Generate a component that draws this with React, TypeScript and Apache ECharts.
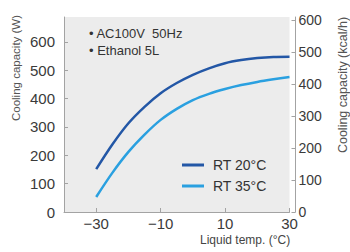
import React, { useEffect, useRef } from "react";
import * as echarts from "echarts";

const temps = [-30, -25, -20, -15, -10, -5, 0, 5, 10, 15, 20, 25, 30];
const rt20 = [151, 238, 313, 371, 419, 455, 484, 507, 525, 536, 543, 547, 548];
const rt35 = [53, 138, 212, 273, 325, 364, 395, 417, 434, 448, 459, 468, 476];
const xTicks = [-30, -10, 10, 30];
const leftTicks = [0, 100, 200, 300, 400, 500, 600];
const rightTicks = [0, 100, 200, 300, 400, 500, 600];
const seriesNames = ["RT 20°C", "RT 35°C"];
const notes = ["• AC100V  50Hz", "• Ethanol 5L"];

const FONT = "Liberation Sans, Arial, sans-serif";
const AXIS = "#a3a3a3";
const LABEL = "#3a3a3a";

export default function App() {
  const ref = useRef<HTMLDivElement>(null);
  useEffect(() => {
    if (!ref.current) return;
    const chart = echarts.init(ref.current, undefined, { renderer: "svg" });
    const mk = (vals: number[]) => temps.map((t, i) => [t, vals[i]]);
    chart.setOption({
      animation: false,
      backgroundColor: "#ffffff",
      textStyle: { fontFamily: FONT },
      grid: {
        left: 64,
        right: 60.5,
        top: 17,
        bottom: 40,
        show: true,
        backgroundColor: "#ececec",
        borderWidth: 0,
      },
      legend: {
        orient: "vertical",
        left: 182,
        top: 158,
        padding: 0,
        itemGap: 7,
        itemWidth: 22,
        itemHeight: 3,
        icon: "rect",
        data: seriesNames,
        textStyle: { fontSize: 14, color: "#333", fontFamily: FONT, padding: [0, 0, 0, 4] },
      },
      xAxis: {
        type: "value",
        min: -40,
        max: 30,
        axisLine: { show: true, onZero: false, lineStyle: { color: AXIS, width: 1 } },
        axisTick: { show: true, inside: true, length: 4, customValues: xTicks, lineStyle: { color: AXIS } },
        axisLabel: {
          customValues: xTicks,
          fontSize: 15,
          color: LABEL,
          margin: 4,
          fontFamily: FONT,
          formatter: (v: number) => String(v).replace("-", "\u2212"),
        },
        splitLine: { show: false },
      },
      yAxis: [
        {
          type: "value",
          min: 0,
          max: 688,
          position: "left",
          axisLine: { show: true, onZero: false, lineStyle: { color: AXIS } },
          axisTick: { show: true, inside: true, length: 4, customValues: leftTicks, lineStyle: { color: AXIS } },
          axisLabel: { customValues: leftTicks, fontSize: 15, color: LABEL, margin: 9, fontFamily: FONT },
          splitLine: { show: false },
        },
        {
          type: "value",
          min: 0,
          max: 609,
          position: "right",
          offset: 6,
          axisLine: { show: true, onZero: false, lineStyle: { color: AXIS } },
          axisTick: { show: true, inside: true, length: 4, customValues: rightTicks, lineStyle: { color: AXIS } },
          axisLabel: { customValues: rightTicks, fontSize: 14, color: LABEL, margin: 3, fontFamily: FONT },
          splitLine: { show: false },
        },
      ],
      graphic: [
        {
          type: "text",
          x: 16,
          y: 68,
          rotation: Math.PI / 2,
          style: { text: "Cooling capacity (W)", fontSize: 11.5, fill: "#555", align: "center", verticalAlign: "middle", fontFamily: FONT },
        },
        {
          type: "text",
          x: 343,
          y: 85,
          rotation: Math.PI / 2,
          style: { text: "Cooling capacity (kcal/h)", fontSize: 12.5, fill: "#555", align: "center", verticalAlign: "middle", fontFamily: FONT },
        },
        {
          type: "text",
          x: 200,
          y: 240,
          style: { text: "Liquid temp. (°C)", fontSize: 12, fill: "#444", align: "left", verticalAlign: "middle", fontFamily: FONT },
        },
        {
          type: "text",
          x: 89,
          y: 33,
          style: { text: notes[0], fontSize: 13, fill: "#333", align: "left", verticalAlign: "middle", fontFamily: FONT },
        },
        {
          type: "text",
          x: 89,
          y: 50,
          style: { text: notes[1], fontSize: 13, fill: "#333", align: "left", verticalAlign: "middle", fontFamily: FONT },
        },
      ],
      series: [
        {
          name: seriesNames[0],
          type: "line",
          yAxisIndex: 0,
          data: mk(rt20),
          smooth: 0.3,
          showSymbol: false,
          lineStyle: { color: "#2357a6", width: 2.5 },
          itemStyle: { color: "#2357a6" },
        },
        {
          name: seriesNames[1],
          type: "line",
          yAxisIndex: 0,
          data: mk(rt35),
          smooth: 0.3,
          showSymbol: false,
          lineStyle: { color: "#2aa0e0", width: 2.5 },
          itemStyle: { color: "#2aa0e0" },
        },
      ],
    });
    return () => chart.dispose();
  }, []);
  return <div ref={ref} style={{ width: 350, height: 252, position: "absolute", left: 0, top: 0 }} />;
}
